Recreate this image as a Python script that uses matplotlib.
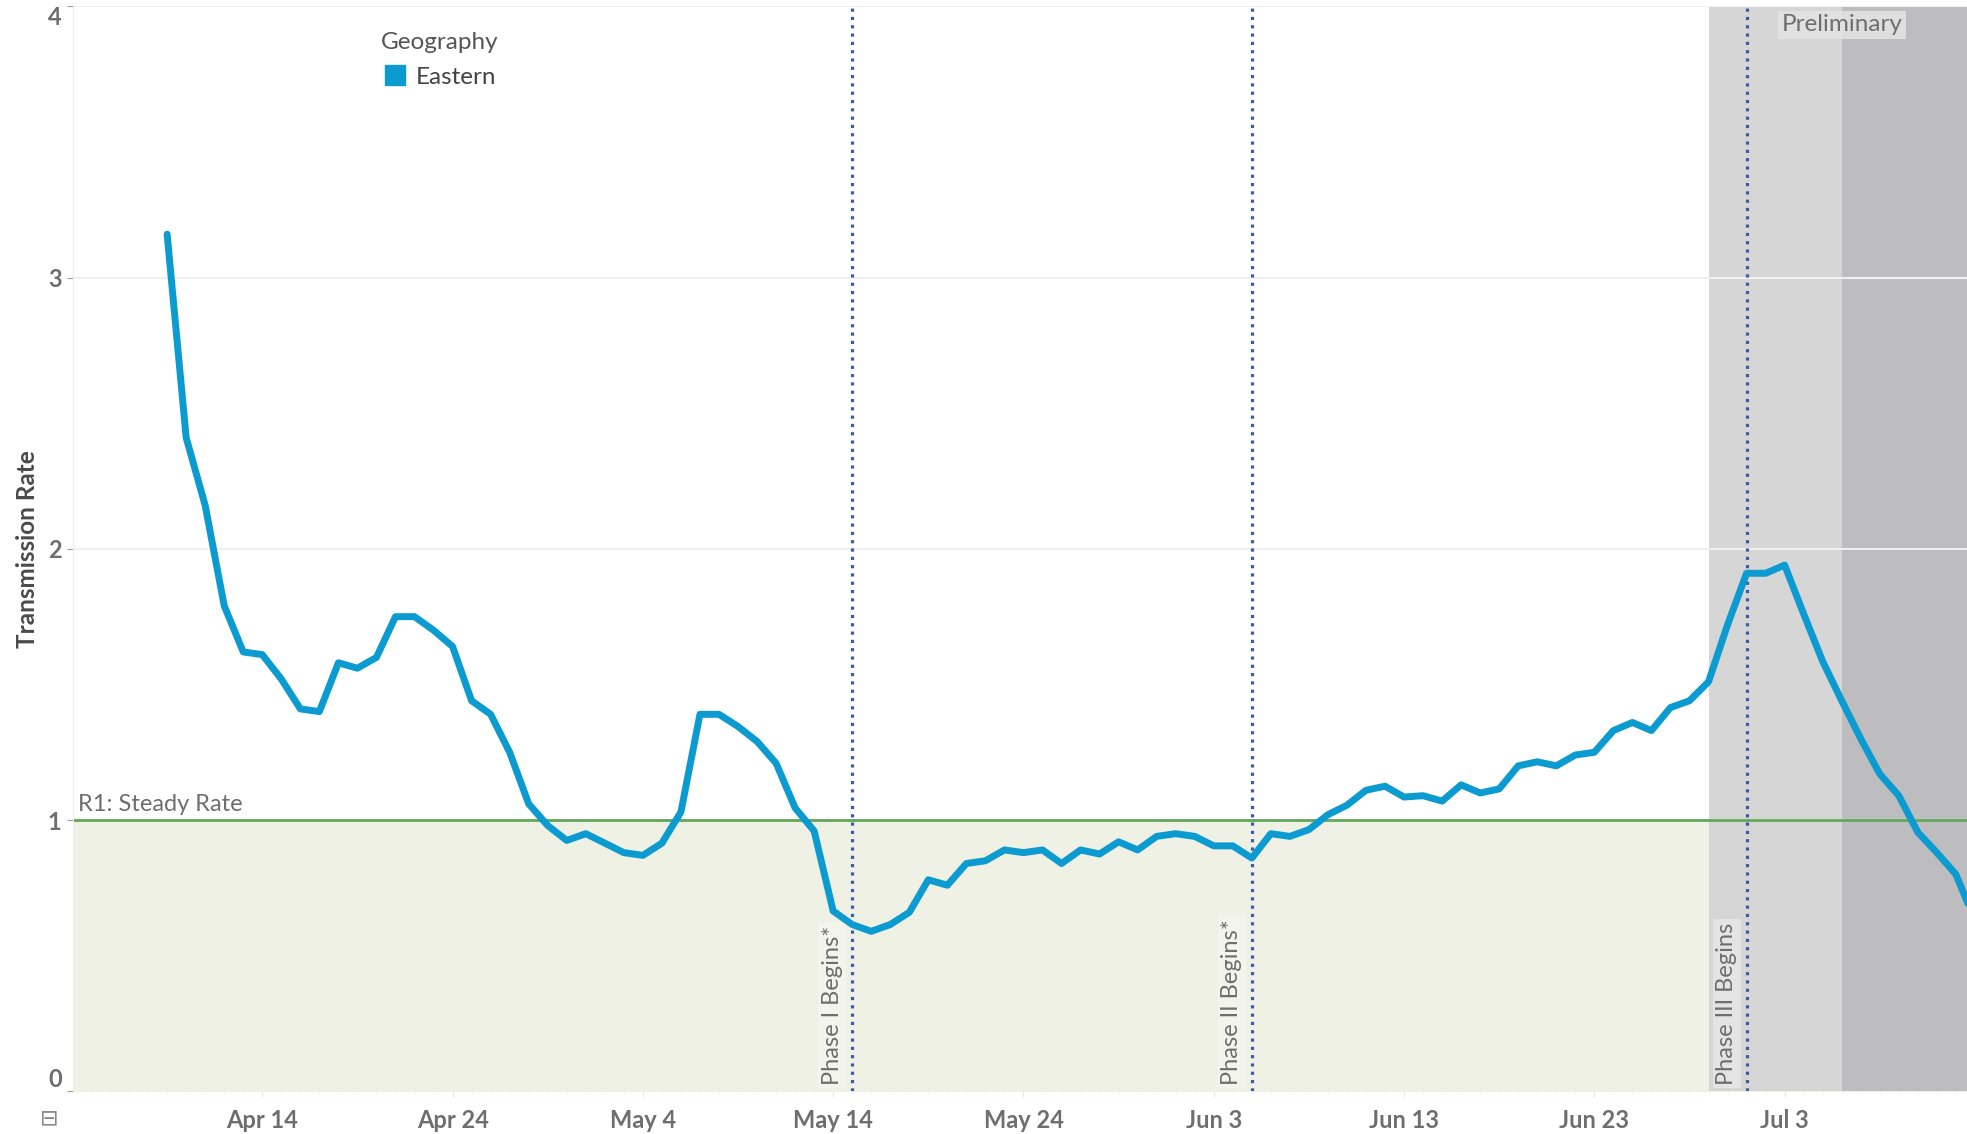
import matplotlib.pyplot as plt
import matplotlib.dates as mdates
from matplotlib.lines import Line2D
import numpy as np
import pandas as pd

plt.rcParams['font.family'] = ['Lato', 'DejaVu Sans']

# Daily transmission rate, Eastern region, starting Apr 9 2020
start_date = '2020-04-09'
rates = [3.16, 2.41, 2.16, 1.79, 1.62, 1.61, 1.52, 1.41, 1.40, 1.58,
         1.56, 1.60, 1.75, 1.75, 1.70, 1.64, 1.44, 1.39, 1.25, 1.06,
         0.98, 0.925, 0.95, 0.915, 0.88, 0.87, 0.915, 1.03, 1.39, 1.39,
         1.345, 1.29, 1.21, 1.045, 0.96, 0.665, 0.615, 0.59, 0.615, 0.66,
         0.78, 0.76, 0.84, 0.85, 0.89, 0.88, 0.89, 0.84, 0.89, 0.875,
         0.92, 0.89, 0.94, 0.95, 0.94, 0.905, 0.905, 0.86, 0.95, 0.94,
         0.965, 1.02, 1.055, 1.11, 1.125, 1.085, 1.09, 1.07, 1.13, 1.10,
         1.115, 1.20, 1.215, 1.20, 1.24, 1.25, 1.33, 1.36, 1.33, 1.415,
         1.44, 1.51, 1.72, 1.91, 1.91, 1.94, 1.76, 1.585, 1.44, 1.30,
         1.17, 1.09, 0.955, 0.88, 0.80, 0.63]
dates = pd.date_range(start_date, periods=len(rates), freq='D')

phase_dates = ['2020-05-15', '2020-06-05', '2020-07-01']
phase_labels = ['Phase I Begins*', 'Phase II Begins*', 'Phase III Begins']
band_start = '2020-06-29'
prelim_start = '2020-07-06'
tick_dates = pd.date_range('2020-04-14', periods=9, freq='10D')

blue = '#0b9bd0'
grey_text = '#6e6e6e'

fig = plt.figure(figsize=(19.67, 11.34), dpi=100)
ax = fig.add_axes([0.037, 0.0376, 0.963, 0.9568])

x_left = pd.Timestamp('2020-04-04 01:00')
x_right = pd.Timestamp('2020-07-12 14:00')
ax.set_xlim(x_left, x_right)
ax.set_ylim(0, 4)

# green zone below steady rate
ax.fill_between([x_left, x_right], 0, 1, color='#eef1e4', zorder=0)
# shaded bands
ax.axvspan(pd.Timestamp(band_start), x_right, color='#d6d6d6', zorder=1, lw=0)
ax.axvspan(pd.Timestamp(prelim_start), x_right, color='#bdbdbf', zorder=1, lw=0)

for yv in [1, 2, 3, 4]:
    ax.axhline(yv, color='#f0f0f0', lw=1.5, zorder=1.5)
ax.axhline(1, color='#62a75a', lw=2, zorder=2)

ax.text(x_left + pd.Timedelta(hours=6), 1.02, 'R1: Steady Rate', fontsize=17,
        color=grey_text, ha='left', va='bottom', zorder=3)

for d, lab in zip(phase_dates, phase_labels):
    d = pd.Timestamp(d)
    ax.axvline(d, color='#3a5ea6', lw=2.3, linestyle=(0, (1, 1.6)), zorder=4)
    face = '#e6e6e6' if 'III' in lab else '#f4f6ee'
    ax.text(d - pd.Timedelta(hours=12), 0.025, lab, rotation=90, fontsize=17,
            color=grey_text, ha='right', va='bottom', zorder=3,
            bbox=dict(boxstyle='square,pad=0.15', fc=face, ec='none', alpha=0.9))

ax.text(pd.Timestamp(prelim_start), 3.97, 'Preliminary', fontsize=17.5,
        color=grey_text, ha='center', va='top', zorder=3,
        bbox=dict(boxstyle='square,pad=0.15', fc='#e4e4e4', ec='none', alpha=0.85))

ax.plot(dates, rates, color=blue, lw=5, solid_joinstyle='round',
        solid_capstyle='round', zorder=5)

# axes styling
for s in ['top', 'right', 'bottom']:
    ax.spines[s].set_visible(False)
ax.spines['left'].set_color('#ececec')
ax.set_xticks(tick_dates)
ax.xaxis.set_major_formatter(mdates.DateFormatter('%b %-d'))
ax.xaxis.set_minor_locator(mdates.DayLocator())
ax.tick_params(axis='x', which='major', length=4, color='#e6e6e6', pad=9,
               labelsize=17, labelcolor=grey_text)
ax.tick_params(axis='x', which='minor', length=2, color='#ececec')
for t in ax.get_xticklabels():
    t.set_fontweight('bold')
ax.set_yticks([0, 1, 2, 3, 4])
ax.tick_params(axis='y', length=4, color='#9a9a9a', labelsize=17,
               labelcolor=grey_text, pad=4)
ylabels = ax.get_yticklabels()
for t in ylabels:
    t.set_fontweight('bold')
ylabels[0].set_verticalalignment('bottom')
ylabels[-1].set_verticalalignment('top')
ax.set_ylabel('Transmission Rate', fontsize=17.5, fontweight='bold',
              color='#4a4a4a', labelpad=6.5)

handle = Line2D([], [], marker='s', ls='', color=blue, markersize=15)
leg = ax.legend([handle], ['Eastern'], title='Geography', loc='upper center',
                bbox_to_anchor=(0.1935, 0.985), frameon=False, fontsize=17.5,
                title_fontsize=17.5, handlelength=1.0, handletextpad=0.35,
                borderaxespad=0, labelspacing=0.55)
leg.get_title().set_color('#555555')
for t in leg.get_texts():
    t.set_color('#444444')

fig.text(0.025, 0.014, '\u229f', fontsize=16, color='#888888',
         family='DejaVu Sans', ha='center', va='center')

fig.savefig('out.png', dpi=100)
